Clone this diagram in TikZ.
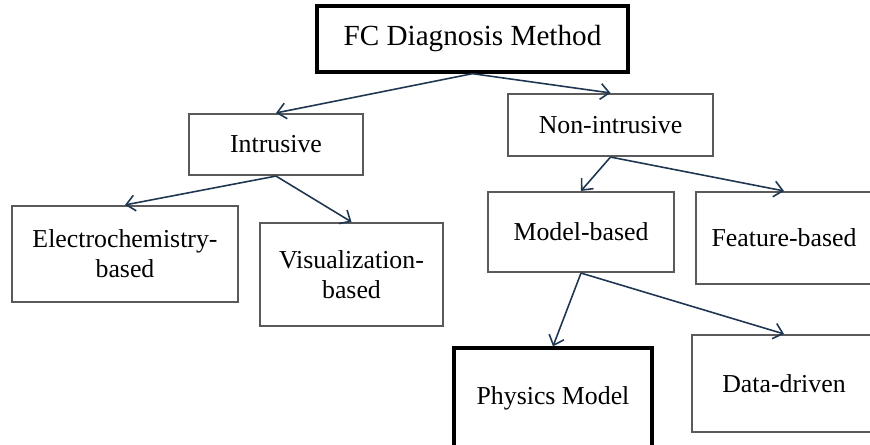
\documentclass[tikz,border=0pt]{standalone}
\usepackage{fontspec}
\setmainfont{Liberation Serif}
\usepackage{tikz}
\usetikzlibrary{arrows.meta, positioning}
\definecolor{arrowblue}{HTML}{1F3652}
\definecolor{boxgray}{HTML}{5A5A5A}
\tikzset{>={Straight Barb[length=5pt,width=9pt]}}

\begin{document}
\begin{tikzpicture}[
	box/.style={draw=boxgray, line width=1.2pt, fill=white, align=center,
		font=\fontsize{14.7}{17}\selectfont, inner sep=0pt},
	mainbox/.style={box, draw=black, line width=1.9pt},
	link/.style={->, draw=arrowblue, line width=0.9pt}]

	\useasboundingbox (0,0) rectangle (17.4,-8.88);
	\clip (0,0) rectangle (17.4,-8.88);

	\node[mainbox, minimum width=6.22cm, minimum height=1.32cm,
		font=\fontsize{16.6}{19}\selectfont] (R) at (9.45,-0.78) {FC Diagnosis Method};
	\node[box, minimum width=3.48cm, minimum height=1.22cm] (I) at (5.52,-2.89) {Intrusive};
	\node[box, minimum width=4.10cm, minimum height=1.24cm] (N) at (12.21,-2.50) {Non-intrusive};
	\node[box, minimum width=4.52cm, minimum height=1.92cm] (E) at (2.50,-5.08) {Electrochemistry-\\based};
	\node[box, minimum width=3.66cm, minimum height=2.06cm] (V) at (7.03,-5.49) {Visualization-\\based};
	\node[box, minimum width=3.72cm, minimum height=1.60cm] (M) at (11.62,-4.64) {Model-based};
	\node[box, minimum width=3.52cm, minimum height=1.84cm] (F) at (15.68,-4.76) {Feature-based};
	\node[mainbox, minimum width=3.96cm, minimum height=2.00cm] (P) at (11.06,-7.96) {Physics Model};
	\node[box, minimum width=3.68cm, minimum height=1.94cm] (D) at (15.68,-7.67) {Data-driven};

	\draw [link] (R.south)--(I.north);
	\draw [link] (R.south)--(N.north);
	\draw [link] (I.south)--(E.north);
	\draw [link] (I.south)--(V.north);
	\draw [link] (N.south)--(M.north);
	\draw [link] (N.south)--(F.north);
	\draw [link] (M.south)--(P.north);
	\draw [link] (M.south)--(D.north);

\end{tikzpicture}
\end{document}
